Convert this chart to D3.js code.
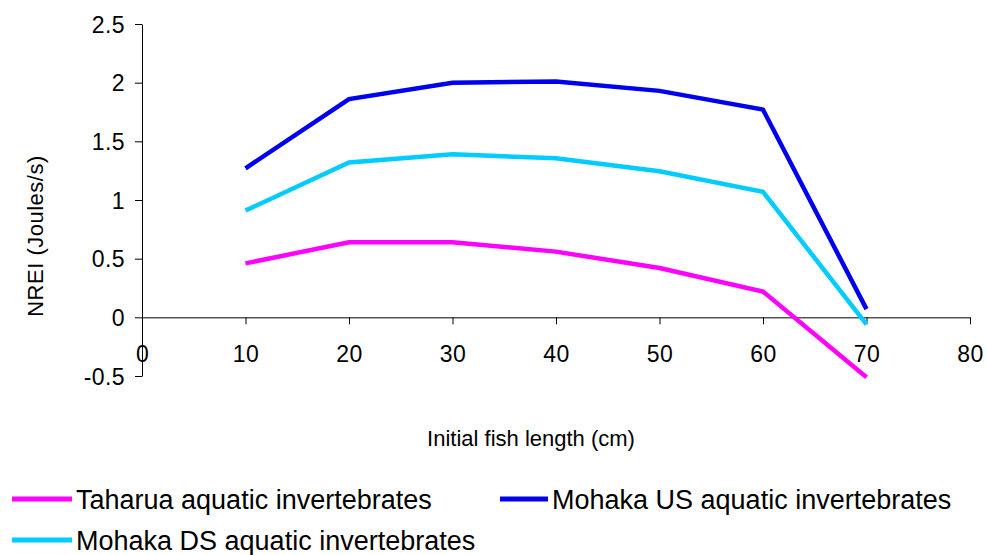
<!DOCTYPE html>
<html>
<head>
<meta charset="utf-8">
<script src="https://cdn.jsdelivr.net/npm/d3@7"></script>
<style>
  body { margin: 0; background: #fff; }
  svg { display: block; font-family: "Liberation Sans", Arial, sans-serif; }
</style>
</head>
<body>
<div id="chart"></div>
<script>
// initial fish length (cm)
const lengths = [10, 20, 30, 40, 50, 60, 70];
const taharua = [0.46, 0.64, 0.64, 0.56, 0.42, 0.22, -0.51];
const mohakaUS = [1.27, 1.86, 2.0, 2.01, 1.93, 1.77, 0.07];
const mohakaDS = [0.91, 1.32, 1.39, 1.355, 1.245, 1.07, -0.06];
const xTicks = [0, 10, 20, 30, 40, 50, 60, 70, 80];
const yTicks = [-0.5, 0, 0.5, 1, 1.5, 2, 2.5];

const series = [
    { name: 'Taharua aquatic invertebrates', values: taharua, color: '#ff00ff' },
    { name: 'Mohaka US aquatic invertebrates', values: mohakaUS, color: '#0000ee' },
    { name: 'Mohaka DS aquatic invertebrates', values: mohakaDS, color: '#00ccff' }
];

const width = 987, height = 555;
const svg = d3.select('#chart').append('svg')
    .attr('width', width)
    .attr('height', height);

const x = d3.scaleLinear().domain([0, 80]).range([142, 970]);
const y = d3.scaleLinear().domain([-0.5, 2.5]).range([376, 24]);

// y axis (hyphen minus like the original, not unicode minus)
const yAxis = svg.append('g')
    .attr('transform', `translate(${x(0)},0)`)
    .call(d3.axisLeft(y).tickValues(yTicks).tickSize(7).tickSizeOuter(0)
        .tickFormat(d => String(d)));
yAxis.select('.domain').attr('stroke', '#000');
yAxis.selectAll('text')
    .attr('font-size', '23px')
    .attr('letter-spacing', '0.4px')
    .attr('font-family', '"Liberation Sans", Arial, sans-serif')
    .attr('fill', '#000')
    .attr('x', -17)
    .attr('dy', '0.36em');

// x axis at y = 0
const xAxis = svg.append('g')
    .attr('transform', `translate(0,${y(0)})`)
    .call(d3.axisBottom(x).tickValues(xTicks).tickSize(7).tickSizeOuter(0)
        .tickFormat(d => String(d)));
xAxis.select('.domain').attr('stroke', '#000');
xAxis.selectAll('text')
    .attr('font-size', '23px')
    .attr('letter-spacing', '0.4px')
    .attr('font-family', '"Liberation Sans", Arial, sans-serif')
    .attr('fill', '#000')
    .attr('y', 36)
    .attr('dy', '0.36em');

const line = d3.line()
    .x((d, i) => x(lengths[i]))
    .y(d => y(d));

svg.selectAll('.series')
    .data(series)
    .enter()
    .append('path')
    .attr('class', 'series')
    .attr('fill', 'none')
    .attr('stroke', d => d.color)
    .attr('stroke-width', 4.5)
    .attr('stroke-linejoin', 'miter')
    .attr('d', d => line(d.values));

// axis titles
svg.append('text')
    .attr('x', 531)
    .attr('y', 446)
    .attr('text-anchor', 'middle')
    .attr('font-size', '22px')
    .text('Initial fish length (cm)');

svg.append('text')
    .attr('transform', 'translate(43,236) rotate(-90)')
    .attr('text-anchor', 'middle')
    .attr('font-size', '22px')
    .attr('letter-spacing', '0.5px')
    .text('NREI (Joules/s)');

// legend
const legendPos = [
    { lx: 12, ly: 499 },
    { lx: 500, ly: 499 },
    { lx: 12, ly: 540 }
];
const legend = svg.selectAll('.legend')
    .data(series)
    .enter()
    .append('g')
    .attr('class', 'legend')
    .attr('transform', (d, i) => `translate(${legendPos[i].lx},${legendPos[i].ly})`);

legend.append('line')
    .attr('x1', 0)
    .attr('x2', (d, i) => i === 1 ? 48 : 60)
    .attr('stroke', d => d.color)
    .attr('stroke-width', 5);

legend.append('text')
    .attr('x', (d, i) => i === 1 ? 52 : 64)
    .attr('dy', '0.36em')
    .attr('font-size', '27px')
    .text(d => d.name);
</script>
</body>
</html>
